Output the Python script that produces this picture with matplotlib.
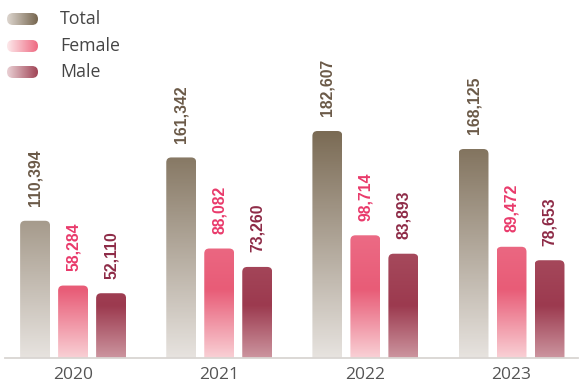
import numpy as np
import matplotlib
matplotlib.use("Agg")
import matplotlib.pyplot as plt
from matplotlib.colors import LinearSegmentedColormap, Normalize
from matplotlib.patches import FancyBboxPatch

# ---- data -------------------------------------------------------------
years = ["2020", "2021", "2022", "2023"]
series_names = ["Total", "Female", "Male"]
total = [110394, 161342, 182607, 168125]
female = [58284, 88082, 98714, 89472]
male = [52110, 73260, 83893, 78653]

# ---- styling ------------------------------------------------------------
label_colors = ["#6b5a48", "#e93a6b", "#8e2b47"]
bar_cmaps = [
    (LinearSegmentedColormap.from_list(
        "total", [(0.0, "#e7e3df"), (1.0, "#76664f")]), 190000),
    (LinearSegmentedColormap.from_list(
        "female", [(0.0, "#f9d0d5"), (0.55, "#e85c77"), (1.0, "#ec6b85")]), 100000),
    (LinearSegmentedColormap.from_list(
        "male", [(0.0, "#cc959f"), (0.42, "#9c3a4f"), (1.0, "#aa4f61")]), 100000),
]
legend_grads = [("#ddd6cf", "#76664f"), ("#fde9eb", "#ee6a82"), ("#ead0d4", "#a04456")]

W, H = 579, 385
fig = plt.figure(figsize=(W / 100, H / 100), dpi=100)
fig.patch.set_facecolor("white")

ax_left, ax_right, ax_bottom, ax_top = 5, 578, 27, 385
ax = fig.add_axes([ax_left / W, ax_bottom / H,
                   (ax_right - ax_left) / W, (ax_top - ax_bottom) / H])
xlim = (-0.466, 3.455)
ylim = (0, 288000)

x = np.arange(len(years))
width = 0.205
offsets = [-0.26, 0.0, 0.26]

# pixel scales, used for corner rounding
px_per_x = (ax_right - ax_left) / (xlim[1] - xlim[0])
px_per_y = (ax_top - ax_bottom) / (ylim[1] - ylim[0])
radius_px = 5
rx = radius_px / px_per_x
ry = radius_px / px_per_y

for k, (vals, off) in enumerate(zip([total, female, male], offsets)):
    cmap, vmax = bar_cmaps[k]
    bars = ax.bar(x + off, vals, width=width, facecolor="none", linewidth=0)
    for rect, v in zip(bars, vals):
        x0, w, h = rect.get_x(), rect.get_width(), rect.get_height()
        shape = FancyBboxPatch((x0, -ry), w, h + ry,
                               boxstyle=f"round,pad=0,rounding_size={rx}",
                               mutation_aspect=ry / rx,
                               facecolor="none", edgecolor="none",
                               transform=ax.transData)
        ax.add_patch(shape)
        grad = np.linspace(0, h, 256)[:, None]
        im = ax.imshow(grad, cmap=cmap, norm=Normalize(0, vmax),
                       extent=(x0, x0 + w, 0, h), origin="lower",
                       aspect="auto", interpolation="bilinear", zorder=2)
        im.set_clip_path(shape)
        ax.annotate(f"{v:,}", xy=(x0 + w / 2, h), xytext=(0, 10.5),
                    textcoords="offset points", rotation=90,
                    ha="center", va="bottom", color=label_colors[k],
                    fontsize=11.3, fontweight="bold",
                    family=["Liberation Sans", "DejaVu Sans"])

ax.set_xlim(*xlim)
ax.set_ylim(*ylim)
ax.set_xticks(x)
ax.set_xticklabels(years, fontsize=12.5, color="#555555", family="Open Sans")
ax.tick_params(axis="x", length=0, pad=6.5)
ax.set_yticks([])
for side in ["left", "right", "top"]:
    ax.spines[side].set_visible(False)
ax.spines["bottom"].set_color("#d9d5d2")
ax.spines["bottom"].set_linewidth(1.3)
ax.set_facecolor("none")

# ---- legend ------------------------------------------------------------
lax = fig.add_axes([0, 0, 1, 1])
lax.set_xlim(0, W)
lax.set_ylim(H, 0)
lax.axis("off")
lax.patch.set_alpha(0)
legend_rows = [19, 46, 72]
for name, yc, (c0, c1) in zip(series_names, legend_rows, legend_grads):
    px0, px1, hh = 7, 38, 6
    pill = FancyBboxPatch((px0, yc - hh), px1 - px0, 2 * hh,
                          boxstyle=f"round,pad=0,rounding_size={hh}",
                          facecolor="none", edgecolor="none",
                          transform=lax.transData)
    lax.add_patch(pill)
    cm = LinearSegmentedColormap.from_list(name, [c0, c1])
    im = lax.imshow(np.linspace(0, 1, 128)[None, :], cmap=cm,
                    extent=(px0, px1, yc + hh, yc - hh), aspect="auto",
                    interpolation="bilinear")
    im.set_clip_path(pill)
    lax.text(60, yc, name, fontsize=12.8, color="#454545", va="center",
             ha="left", family="Open Sans")
lax.set_xlim(0, W)
lax.set_ylim(H, 0)

fig.savefig("out.png", dpi=100)
